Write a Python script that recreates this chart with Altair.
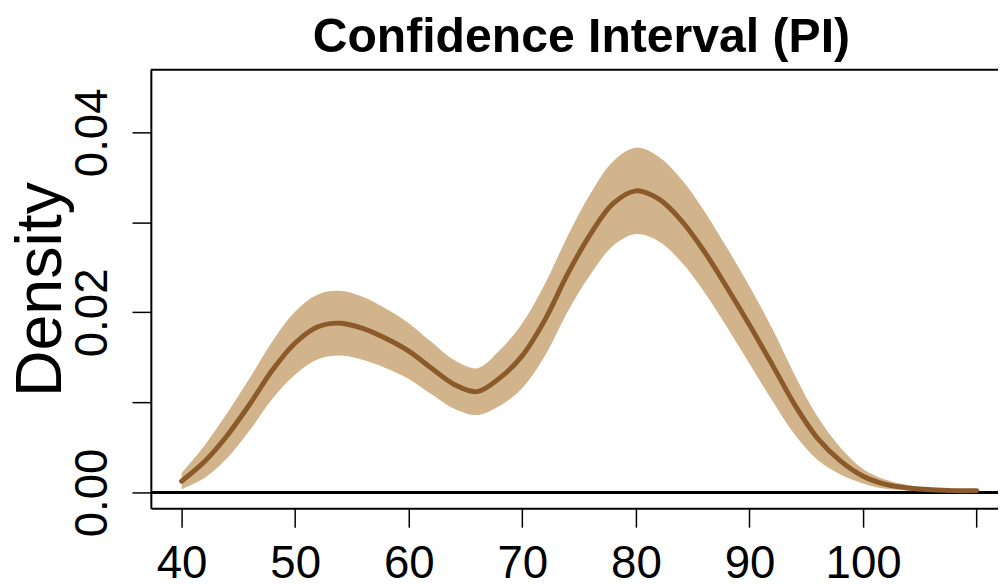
import altair as alt
import pandas as pd

# ---- data ----
xs = [40, 42, 44, 46, 48, 50, 52, 54, 56, 58, 60, 62, 64, 66, 68, 70, 72, 74,
      76, 78, 80, 82, 84, 86, 88, 90, 92, 94, 96, 98, 100, 102, 104, 106, 108, 110]
mean = [0.00125, 0.0034, 0.0063, 0.0098, 0.0136, 0.0166, 0.0184, 0.0188, 0.0182,
        0.0171, 0.0157, 0.0138, 0.0120, 0.0112, 0.0127, 0.0152, 0.0192, 0.0243,
        0.0287, 0.0321, 0.0335, 0.0326, 0.0302, 0.0268, 0.0228, 0.0186, 0.0142,
        0.0097, 0.0060, 0.0035, 0.0018, 0.0009, 0.0005, 0.0003, 0.0002, 0.0002]
lower = [0.00035, 0.0016, 0.0038, 0.0069, 0.0104, 0.0131, 0.0148, 0.0152, 0.0147,
         0.0138, 0.0126, 0.0109, 0.0093, 0.0086, 0.0096, 0.0116, 0.0152, 0.0201,
         0.0242, 0.0274, 0.0287, 0.0279, 0.0256, 0.0223, 0.0184, 0.0143, 0.0102,
         0.0064, 0.0036, 0.0020, 0.0010, 0.0004, 0.0002, 0.0001, 0.0001, 0.0001]
upper = [0.00215, 0.0052, 0.0088, 0.0127, 0.0168, 0.0201, 0.0220, 0.0224, 0.0217,
         0.0204, 0.0188, 0.0167, 0.0147, 0.0138, 0.0158, 0.0188, 0.0232, 0.0285,
         0.0332, 0.0368, 0.0383, 0.0373, 0.0348, 0.0313, 0.0272, 0.0229, 0.0182,
         0.0130, 0.0084, 0.0050, 0.0026, 0.0014, 0.0008, 0.0005, 0.0003, 0.0003]
x_ticks = [40, 50, 60, 70, 80, 90, 100, 110]
y_ticks = [0.0, 0.01, 0.02, 0.03, 0.04]

df = pd.DataFrame({"x": xs, "mean": mean, "lower": lower, "upper": upper})

W, H = 854, 442
FONT = "Liberation Sans"

xscale = alt.Scale(domain=[37.293, 111.878], nice=False, zero=False)
yscale = alt.Scale(domain=[-0.001763, 0.046942], nice=False, zero=False)

x_axis = alt.Axis(
    values=x_ticks, title=None, grid=False,
    tickSize=19, tickWidth=1.5, tickColor="black",
    domainColor="black", domainWidth=2,
    labelFont=FONT, labelFontSize=46, labelColor="black",
    labelBaseline="alphabetic", labelPadding=51,
    labelOverlap=False, labelFlush=False, labelBound=False,
    labelExpr="datum.value == 110 ? '' : datum.label",
)
y_axis = alt.Axis(
    values=y_ticks, title="Density", grid=False,
    tickSize=19, tickWidth=1.5, tickColor="black",
    domainColor="black", domainWidth=2,
    labelFont=FONT, labelFontSize=46, labelColor="black",
    labelAngle=270, labelAlign="center", labelBaseline="alphabetic",
    labelPadding=26, labelOverlap=False, labelFlush=False, labelBound=False,
    labelExpr="abs(round(datum.value*100)) % 2 == 0 ? format(datum.value, '.2f') : ''",
    titleFont=FONT, titleFontSize=65, titleFontWeight="normal", titleColor="black",
    titleAngle=270, titleAlign="center", titleBaseline="alphabetic",
    titleX=-91, titleY=H / 2,
)

base = alt.Chart(df)

band = base.mark_area(color="#D2B48C", opacity=1, interpolate="catmull-rom", clip=True).encode(
    x=alt.X("x:Q", scale=xscale, axis=x_axis),
    y=alt.Y("lower:Q", scale=yscale, axis=y_axis),
    y2="upper:Q",
)

zero = alt.Chart(pd.DataFrame({"z": [0.0]})).mark_rule(color="black", strokeWidth=3, clip=True).encode(
    y=alt.Y("z:Q", scale=yscale),
)

line = base.mark_line(color="#8B5A2B", strokeWidth=5, interpolate="catmull-rom",
                      strokeCap="round", clip=True).encode(
    x=alt.X("x:Q", scale=xscale),
    y=alt.Y("mean:Q", scale=yscale),
)

top = alt.Chart(pd.DataFrame({"t": [0]})).mark_rule(color="black", strokeWidth=2).encode(
    x=alt.value(0), x2=alt.value(W), y=alt.value(0),
)

chart = alt.layer(band, zero, line, top).properties(
    width=W, height=H,
    title=alt.TitleParams(
        text="Confidence Interval (PI)", font=FONT, fontSize=48.5, fontWeight="bold",
        color="black", anchor="middle", frame="group",
        offset=7, dx=7,
    ),
    autosize=alt.AutoSizeParams(type="none"),
    padding={"left": 144, "top": 60, "right": 0, "bottom": 80},
).configure(background="white").configure_view(strokeWidth=0, stroke=None)

chart.save("out.html", embed_options={"renderer": "svg", "actions": False})
